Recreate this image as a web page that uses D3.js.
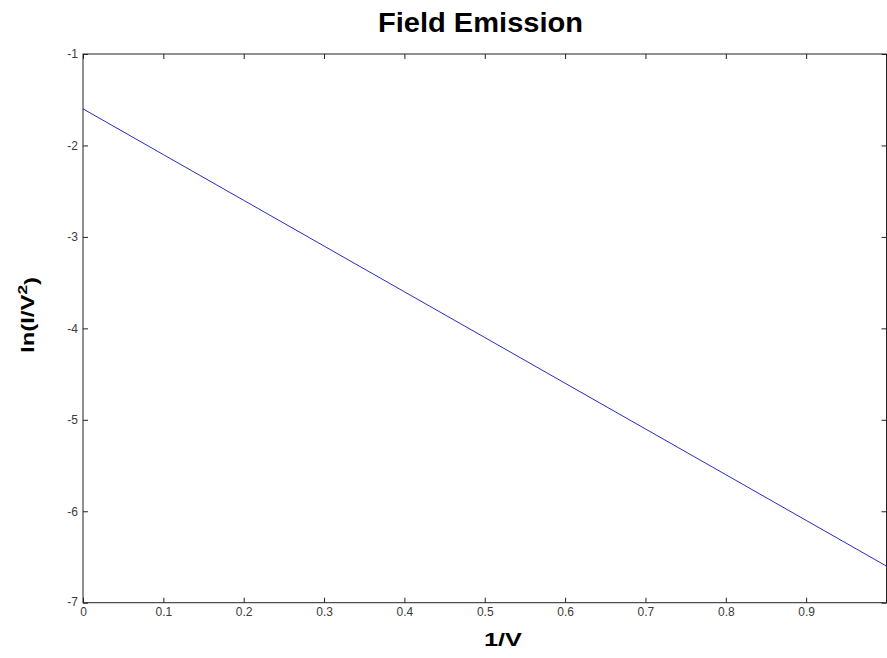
<!DOCTYPE html>
<html>
<head>
<meta charset="utf-8">
<script src="https://cdn.jsdelivr.net/npm/d3@7"></script>
<style>
  html, body { margin: 0; padding: 0; background: #fff; }
  svg { display: block; }
  text { font-family: "Liberation Sans", Arial, Helvetica, sans-serif; }
</style>
</head>
<body>
<svg id="chart" width="887" height="658"></svg>
<script>
// Field emission (Fowler–Nordheim style) plot: ln(I/V^2) against 1/V
const invV   = [0, 0.1, 0.2, 0.3, 0.4, 0.5, 0.6, 0.7, 0.8, 0.9, 1.0];
const lnIV2  = [-1.6, -2.1, -2.6, -3.1, -3.6, -4.1, -4.6, -5.1, -5.6, -6.1, -6.6];

const xTicks = [0, 0.1, 0.2, 0.3, 0.4, 0.5, 0.6, 0.7, 0.8, 0.9];
const yTicks = [-7, -6, -5, -4, -3, -2, -1];

const titleText  = "Field Emission";
const xLabelText = "1/V";

(function draw() {
  const svg = d3.select("#chart");
  const pl = 83, pr = 886.5, pt = 54, pb = 602.7;

  const x = d3.scaleLinear().domain([0, 1]).range([pl, pr]);
  const y = d3.scaleLinear().domain([-7, -1]).range([pb, pt]);

  const axisColor = "#222";
  const tickLen = 5;
  const plain = d => String(d);   // hyphen-minus labels

  // bottom and left axes with inward ticks
  const gx = svg.append("g").attr("transform", `translate(0,${pb})`)
    .call(d3.axisBottom(x).tickValues(xTicks).tickSizeInner(-tickLen).tickSizeOuter(0)
          .tickPadding(6).tickFormat(plain));
  const gy = svg.append("g").attr("transform", `translate(${pl},0)`)
    .call(d3.axisLeft(y).tickValues(yTicks).tickSizeInner(-tickLen).tickSizeOuter(0)
          .tickPadding(5).tickFormat(plain));
  // mirrored top and right axes (ticks only)
  const gt = svg.append("g").attr("transform", `translate(0,${pt})`)
    .call(d3.axisTop(x).tickValues(xTicks).tickSizeInner(-tickLen).tickSizeOuter(0).tickFormat(""));
  const gr = svg.append("g").attr("transform", `translate(${pr},0)`)
    .call(d3.axisRight(y).tickValues(yTicks).tickSizeInner(-tickLen).tickSizeOuter(0).tickFormat(""));

  [gx, gy, gt, gr].forEach(g => {
    g.select(".domain").remove();
    g.selectAll(".tick line").attr("stroke", axisColor).attr("stroke-width", 1);
    g.selectAll(".tick text").attr("fill", "#3a3a3a").style("font-size", "12px")
      .style("font-family", "'Liberation Sans', Arial, sans-serif");
  });
  gx.selectAll(".tick text").attr("dy", "0.6em");
  // lowest y label sits slightly above its tick
  gy.selectAll(".tick text").filter(d => d === -7).attr("y", -1);

  // plot box
  svg.append("rect")
    .attr("x", pl).attr("y", pt)
    .attr("width", pr - pl).attr("height", pb - pt)
    .attr("fill", "none").attr("stroke", axisColor).attr("stroke-width", 1);

  // data line
  const line = d3.line().x((d, i) => x(invV[i])).y(d => y(d));
  svg.append("path")
    .datum(lnIV2)
    .attr("d", line)
    .attr("fill", "none")
    .attr("stroke", "#2b2bbf")
    .attr("stroke-width", 1);

  // title
  svg.append("text")
    .attr("x", 480.5).attr("y", 32)
    .attr("text-anchor", "middle")
    .style("font-size", "27px").style("font-weight", "bold")
    .attr("textLength", 205).attr("lengthAdjust", "spacingAndGlyphs")
    .attr("fill", "#000")
    .text(titleText);

  // x label
  svg.append("text")
    .attr("x", 503).attr("y", 646)
    .attr("text-anchor", "middle")
    .style("font-size", "18px").style("font-weight", "bold")
    .attr("textLength", 38).attr("lengthAdjust", "spacingAndGlyphs")
    .attr("fill", "#000")
    .text(xLabelText);

  // y label with superscript
  const yl = svg.append("text")
    .attr("transform", "translate(34,315) rotate(-90)")
    .attr("text-anchor", "middle")
    .style("font-size", "18px").style("font-weight", "bold")
    .attr("textLength", 76).attr("lengthAdjust", "spacingAndGlyphs")
    .attr("fill", "#000");
  yl.append("tspan").text("ln(I/V");
  yl.append("tspan").attr("dy", "-0.55em").style("font-size", "13px").text("2");
  yl.append("tspan").attr("dy", "0.55em").text(")");
})();
</script>
</body>
</html>
